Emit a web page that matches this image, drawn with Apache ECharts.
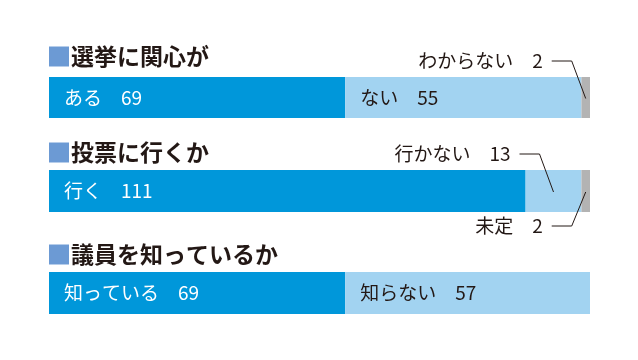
<!DOCTYPE html>
<html><head><meta charset="utf-8">
<script src="https://cdn.jsdelivr.net/npm/echarts@6/dist/echarts.min.js"></script>
<style>html,body{margin:0;padding:0;background:#fff}#c{width:638px;height:360px}</style>
</head><body><div id="c"></div>
<script>
// ---- data ----
const questions = ['選挙に関心が', '投票に行くか', '議員を知っているか'];
const names1 = ['ある', 'ない', 'わからない'];
const values1 = [69, 55, 2];
const names2 = ['行く', '行かない', '未定'];
const values2 = [111, 13, 2];
const names3 = ['知っている', '知らない'];
const values3 = [69, 57];
const total = 126;

// ---- styling ----
const segNames = [names1, names2, names3];
const segValues = [values1, values2, values3];
const colors = ['#0097da', '#a2d3f1', '#b3b3b3'];
const insideColors = ['#ffffff', '#231815', '#231815'];
const outside = [[null, null, 'top'], [null, 'top', 'bottom'], [null, null]];
const grids = [
  {left: 49, width: 541, top: 77, height: 41},
  {left: 49, width: 541, top: 170, height: 42},
  {left: 49, width: 541, top: 272, height: 42}
];
const titleTops = [45, 141, 243];
const FONT = '"Noto Sans CJK JP", "Noto Sans", sans-serif';
const INK = '#231815';

const chart = echarts.init(document.getElementById('c'), null, {renderer: 'canvas'});

const xAxis = [], yAxis = [], series = [], title = [];
questions.forEach((q, i) => {
  xAxis.push({gridIndex: i, type: 'value', min: 0, max: total, show: false});
  yAxis.push({gridIndex: i, type: 'category', data: [q], show: false});
  title.push({
    left: 49, top: titleTops[i], padding: 0,
    text: '{sq|}{t|' + q + '}',
    textStyle: {
      rich: {
        sq: {backgroundColor: '#6c9ad4', width: 20, height: 20},
        t: {fontFamily: FONT, fontSize: 23, fontWeight: 'bold', color: INK, padding: [0, 0, 0, 2]}
      }
    }
  });
  segValues[i].forEach((v, j) => {
    const side = outside[i][j];
    let label;
    if (side) {
      label = {
        show: true, position: ['50%', side === 'top' ? 0 : '100%'],
        offset: [-43, side === 'top' ? -16 : 14],
        align: 'right', verticalAlign: 'middle',
        formatter: segNames[i][j] + '　' + v,
        fontFamily: FONT, fontSize: 19, color: INK
      };
    } else {
      label = {
        show: true, position: 'insideLeft', distance: 15,
        formatter: segNames[i][j] + '　' + v,
        fontFamily: FONT, fontSize: 19, color: insideColors[j]
      };
    }
    series.push({
      type: 'bar', name: segNames[i][j], xAxisIndex: i, yAxisIndex: i,
      stack: 'q' + i, barWidth: '100%', data: [v],
      itemStyle: {color: colors[j]}, label: label, silent: true, animation: false
    });
  });
});

chart.setOption({
  animation: false,
  title: title,
  grid: grids,
  xAxis: xAxis, yAxis: yAxis, series: series
});

// leader lines computed from the axes' scales
const graphics = [];
segValues.forEach((vals, i) => {
  let cum = 0;
  vals.forEach((v, j) => {
    const side = outside[i][j];
    if (side) {
      const c = chart.convertToPixel({gridIndex: i}, [cum + v / 2, questions[i]]);
      const half = grids[i].height / 2;
      const ly = side === 'top' ? c[1] - half - 16 : c[1] + half + 14;
      graphics.push({
        type: 'polyline', silent: true, z: 100,
        shape: {points: [[c[0] - 34, ly], [c[0] - 14, ly], [c[0], c[1] + 1]]},
        style: {stroke: INK, lineWidth: 1, fill: null}
      });
    }
    cum += v;
  });
});
chart.setOption({graphic: graphics});
</script></body></html>
